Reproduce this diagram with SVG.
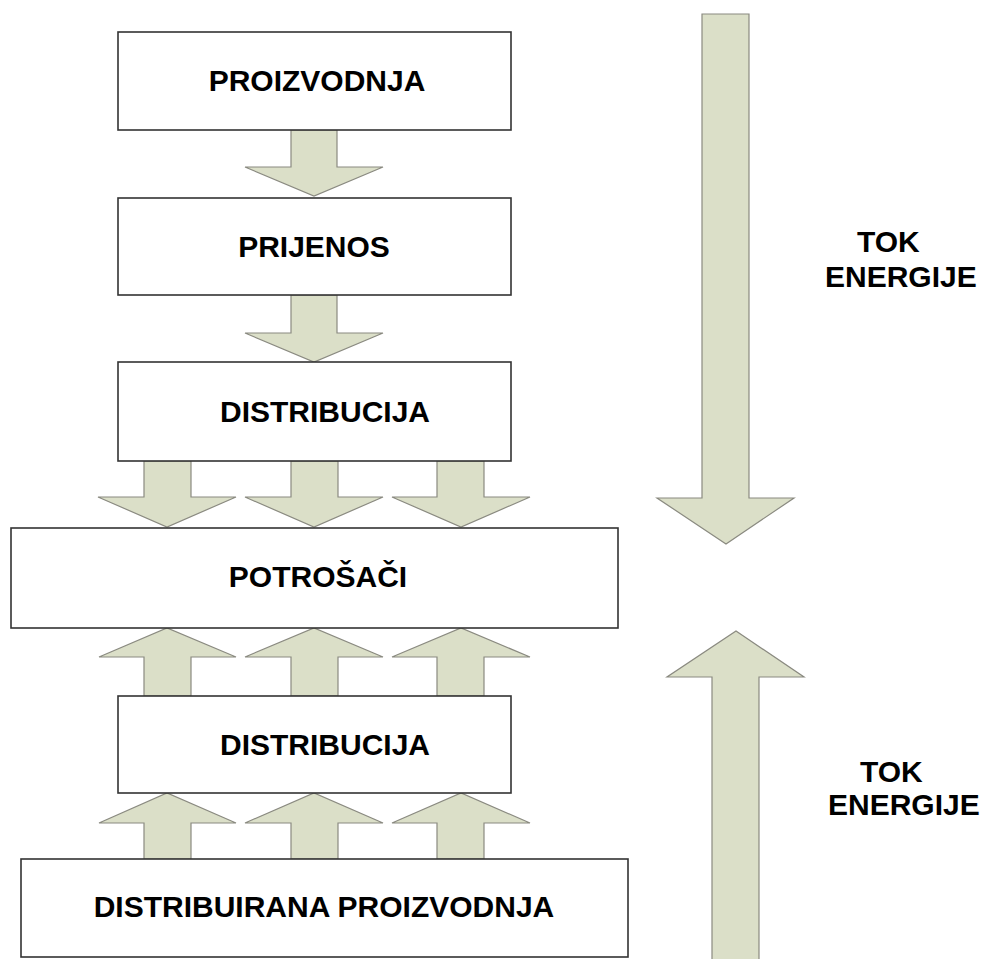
<svg xmlns="http://www.w3.org/2000/svg" width="982" height="959" viewBox="0 0 982 959">
<style>
.box{fill:#fff;stroke:#333;stroke-width:1.6}
.arr{fill:#dbdfc8;stroke:#8a8a80;stroke-width:1.2;stroke-linejoin:miter}
.t{font-family:"Liberation Sans",Arial,sans-serif;font-weight:bold;font-size:30px;fill:#000;text-anchor:middle}
.tl{font-family:"Liberation Sans",Arial,sans-serif;font-weight:bold;font-size:30px;fill:#000}
</style>
<rect width="982" height="959" fill="#fff"/>
<g id="connectors">
<polygon class="arr" points="291,130 337,130 337,167 383,167 314,196 245,167 291,167"/>
<polygon class="arr" points="291,295 337,295 337,333 383,333 314,362 245,333 291,333"/>
<polygon class="arr" points="144,461 191,461 191,497 236,497 167,527 98,497 144,497"/>
<polygon class="arr" points="291,461 338,461 338,497 383,497 314,527 245,497 291,497"/>
<polygon class="arr" points="437,461 484,461 484,497 530,497 461,527 392,497 437,497"/>
<polygon class="arr" points="144,696 191,696 191,657 236,657 167,628 99,657 144,657"/>
<polygon class="arr" points="291,696 338,696 338,657 383,657 314,628 245,657 291,657"/>
<polygon class="arr" points="437,696 484,696 484,657 530,657 461,628 392,657 437,657"/>
<polygon class="arr" points="144,859 191,859 191,823 236,823 167,793 99,823 144,823"/>
<polygon class="arr" points="291,859 338,859 338,823 383,823 314,793 245,823 291,823"/>
<polygon class="arr" points="437,859 484,859 484,823 530,823 461,793 392,823 437,823"/>
<polygon class="arr" points="702,14 749,14 749,498 794,498 726,544 657,498 702,498"/>
<polygon class="arr" points="712,962 759,962 759,677 804,677 736,631 667,677 712,677"/>
</g>
<g id="proizvodnja"><rect class="box" x="118" y="32" width="393" height="98"/><text class="t" x="317" y="91">PROIZVODNJA</text></g>
<g id="prijenos"><rect class="box" x="118" y="198" width="393" height="97"/><text class="t" x="314" y="257">PRIJENOS</text></g>
<g id="distribucija1"><rect class="box" x="118" y="362" width="393" height="99"/><text class="t" x="325" y="422">DISTRIBUCIJA</text></g>
<g id="potrosaci"><rect class="box" x="11" y="528" width="607" height="100"/><text class="t" x="318" y="587">POTROŠAČI</text></g>
<g id="distribucija2"><rect class="box" x="118" y="696" width="393" height="97"/><text class="t" x="325" y="755">DISTRIBUCIJA</text></g>
<g id="distribuirana"><rect class="box" x="21" y="859" width="607" height="98"/><text class="t" x="324" y="917">DISTRIBUIRANA PROIZVODNJA</text></g>
<g id="label1"><text class="tl" x="857" y="252">TOK</text><text class="tl" x="825" y="287">ENERGIJE</text></g>
<g id="label2"><text class="tl" x="860" y="782">TOK</text><text class="tl" x="828" y="815">ENERGIJE</text></g>
</svg>
